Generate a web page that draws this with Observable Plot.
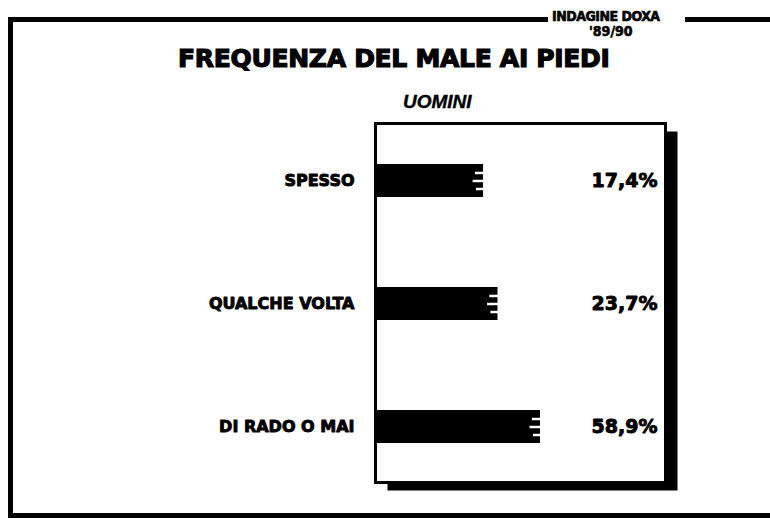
<!DOCTYPE html>
<html>
<head>
<meta charset="utf-8">
<script src="https://cdn.jsdelivr.net/npm/d3@7"></script>
<script src="https://cdn.jsdelivr.net/npm/@observablehq/plot@0.6"></script>
<style>
  html, body { margin: 0; padding: 0; background: #fff; }
  #wrap { position: relative; width: 770px; height: 518px; overflow: hidden; background: #fff; font-family: "DejaVu Sans", sans-serif; }
  #wrap svg { position: absolute; left: 0; top: 0; }
  .ln { position: absolute; background: #000; }
  .t { position: absolute; white-space: nowrap; color: #000; line-height: 1; }
</style>
</head>
<body>
<div id="wrap">
  <div class="ln" style="left:8px; top:17px; width:5px; height:501px;"></div>
  <div class="ln" style="left:8px; top:17px; width:540px; height:5px;"></div>
  <div class="ln" style="left:685px; top:17px; width:85px; height:5px;"></div>
  <div class="ln" style="left:8px; top:513px; width:762px; height:5px;"></div>
  <div class="t" id="src1" style="left:552px; top:9px; font-family:'DejaVu Sans Condensed','DejaVu Sans'; font-weight:bold; font-size:14px; letter-spacing:-0.5px; -webkit-text-stroke:0.6px #000;"></div>
  <div class="t" id="src2" style="left:589px; top:24px; font-family:'DejaVu Sans Condensed','DejaVu Sans'; font-weight:bold; font-size:14px; -webkit-text-stroke:0.6px #000;"></div>
  <div class="t" id="title" style="left:178px; top:46px; font-family:'DejaVu Sans'; font-weight:bold; font-size:25px; letter-spacing:-0.3px; -webkit-text-stroke:1.2px #000;"></div>
  <div class="t" id="sub" style="left:403px; top:92px; font-family:'Liberation Sans'; font-weight:bold; font-style:italic; font-size:19px; -webkit-text-stroke:0.4px #000;"></div>
</div>
<script>
const titleText = "FREQUENZA DEL MALE AI PIEDI";
const sourceLine1 = "INDAGINE DOXA";
const sourceLine2 = "'89/90";
const groupLabel = "UOMINI";
const categories = ["SPESSO", "QUALCHE VOLTA", "DI RADO O MAI"];
const values = [17.4, 23.7, 58.9];
const valueLabels = ["17,4%", "23,7%", "58,9%"];

document.getElementById("title").textContent = titleText;
document.getElementById("src1").textContent = sourceLine1;
document.getElementById("src2").textContent = sourceLine2;
document.getElementById("sub").textContent = groupLabel;

const data = categories.map((c, i) => ({cat: c, value: values[i], label: valueLabels[i]}));
const xMin = 1.72;

const notch = (dy, f) => Plot.ruleY(data, {
  y: "cat", x1: d => d.value * f, x2: d => d.value * 1.03,
  stroke: "white", strokeWidth: 2.5, dy
});

const chart = Plot.plot({
  width: 770,
  height: 518,
  marginLeft: 375,
  marginRight: 105,
  marginTop: 123,
  marginBottom: 36,
  style: {background: "transparent", fontFamily: "DejaVu Sans"},
  x: {type: "log", domain: [xMin, 857], axis: null},
  y: {domain: categories, range: [118, 488], padding: 0, axis: null},
  marks: [
    Plot.frame({fill: "black", dx: 12, dy: 8}),
    Plot.frame({fill: "white", stroke: "black", strokeWidth: 3}),
    Plot.barX(data, {y: "cat", x1: xMin, x2: "value", fill: "black", insetTop: 45, insetBottom: 45}),
    notch(-8, 0.84),
    notch(0, 0.80),
    notch(8, 0.86),
    Plot.text(data, {y: "cat", text: "cat", frameAnchor: "left", textAnchor: "end", dx: -21,
      fontSize: 16, fontWeight: "bold", fill: "black", stroke: "black", strokeWidth: 0.9, letterSpacing: "-0.5px"}),
    Plot.text(data, {y: "cat", text: "label", frameAnchor: "right", textAnchor: "end", dx: -8,
      fontSize: 19, fontWeight: "bold", fill: "black", stroke: "black", strokeWidth: 0.9})
  ]
});
document.getElementById("wrap").prepend(chart);
</script>
</body>
</html>
